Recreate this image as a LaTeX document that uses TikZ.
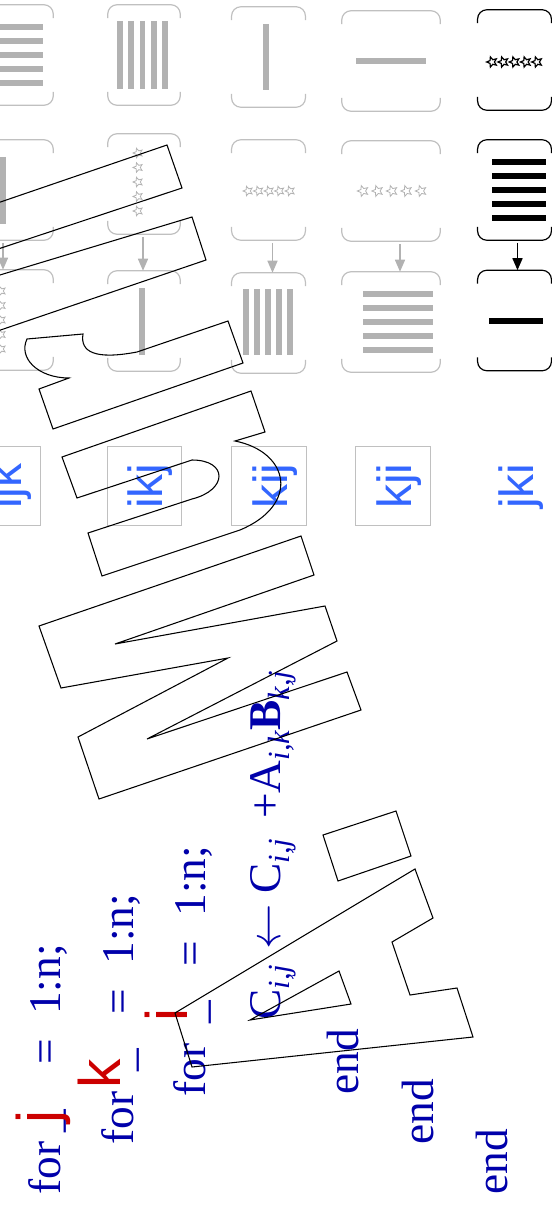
\RequirePackage{fix-cm}
\documentclass[tikz,border=0pt]{standalone}
\usepackage{fontspec}
\setmainfont{Liberation Serif}
\newfontfamily\sansfam{Liberation Sans}
\usetikzlibrary{arrows.meta,shapes.geometric}
\definecolor{codeblue}{RGB}{0,0,170}
\definecolor{loopred}{RGB}{204,0,0}
\definecolor{orderblue}{RGB}{51,102,255}
\definecolor{bargray}{RGB}{178,178,178}
\definecolor{framegray}{RGB}{192,192,192}

% subscript of the update line
\newcommand{\idx}[1]{\raisebox{-0.2em}{\fontsize{23}{23}\selectfont\itshape #1}}
% only the rounded top and bottom of a card are drawn
\newcommand{\cardframe}[2][framegray]{%
  \draw[#1,line width=0.9pt,rounded corners=7pt] ([yshift=-10pt]#2.north west) |- (#2.north) -| ([yshift=-10pt]#2.north east);
  \draw[#1,line width=0.9pt,rounded corners=7pt] ([yshift=10pt]#2.south west) |- (#2.south) -| ([yshift=10pt]#2.south east);}

\begin{document}
\begin{tikzpicture}[x=0.75pt,y=-0.75pt,
  card/.style={inner sep=0pt,minimum height=75pt},
  code/.style={rotate=90,anchor=base west,inner sep=0pt,text=codeblue,font=\fontsize{34}{40}\selectfont},
  loopvar/.style={rotate=90,anchor=base,inner sep=0pt,text=loopred,font=\sansfam\fontsize{44}{50}\selectfont},
  order/.style={rotate=90,inner sep=0pt,minimum width=59pt,minimum height=56pt,text height=34.5pt,text depth=7.5pt,text=orderblue,line width=0.8pt,font=\sansfam\fontsize{36}{40}\selectfont},
  hbar/.style={bargray,line width=4pt},
  starmark/.style={star,star points=5,star point ratio=2.2,minimum size=7.5pt,inner sep=0pt,draw=bargray,line width=0.6pt,rotate=90},
  flow/.style={-{Triangle[length=9pt,width=7.5pt]},line width=1.1pt,bargray,shorten <=2pt}]
  \useasboundingbox (0,0) rectangle (552,1209);
  \clip (0,0) rectangle (552,1209);

  % cards: column / x / width / rows
  \foreach \c/\x/\w/\ya/\yb/\yc in {1/3/75/55/190/320, 2/144/54/55/184/321, 3/268.5/55/57/190/323, 4/391/73.5/61/191/322, 5/514.5/55/60/190/320.5}{
    \node[card,minimum width=\w pt] (top\c) at (\x,\ya) {};
    \node[card,minimum width=\w pt] (mid\c) at (\x,\yb) {};
    \node[card,minimum width=\w pt] (bot\c) at (\x,\yc) {};
  }
  \foreach \c in {1,2,3,4}{\foreach \r in {top,mid,bot}{\cardframe{\r\c}}}
  \foreach \r in {top,mid,bot}{\cardframe[black]{\r5}}

  % column 1
  \foreach \y in {27,41,55,69,83} \draw[hbar] (-27,\y) -- (43,\y);
  \draw[hbar] (3,157) -- (3,224);
  \foreach \y [count=\n] in {291,305.5,320,334.5,349} \node[starmark] (s1-\n) at (1,\y) {};
  % column 2
  \foreach \x in {120,131,142.5,154,165} \draw[hbar] (\x,21) -- (\x,89);
  \foreach \y [count=\n] in {153,167.5,182,196.5,211} \node[starmark] (s2-\n) at (138,\y) {};
  \draw[hbar] (142,288) -- (142,355);
  % column 3
  \draw[hbar] (266,24) -- (266,90);
  \foreach \x [count=\n] in {248,258.5,269,279.5,290} \node[starmark] (s3-\n) at (\x,191) {};
  \foreach \x in {246,257,268,279,290} \draw[hbar] (\x,289) -- (\x,355);
  % column 4
  \draw[hbar] (356,61) -- (426,61);
  \foreach \x [count=\n] in {363,377.5,392,406.5,421} \node[starmark,minimum size=8.5pt] (s4-\n) at (\x,191) {};
  \foreach \y in {294,308,322,336,350} \draw[hbar] (363,\y) -- (433,\y);
  % column 5
  \foreach \x [count=\n] in {492,503.25,514.5,525.75,537} \node[starmark,draw=black,line width=0.9pt,minimum size=8pt] (s5-\n) at (\x,62) {};
  \foreach \y in {162,176,190,204,218} \draw[hbar,black] (492,\y) -- (546,\y);
  \draw[hbar,black] (489,321) -- (543,321);

  \draw[flow] (mid1.south) -- (bot1.north);
  \draw[flow] ([xshift=-0.75pt]mid2.south) -- ([xshift=-0.75pt]bot2.north);
  \draw[flow] ([xshift=3pt]mid3.south) -- ([xshift=3pt]bot3.north);
  \draw[flow] ([xshift=6.75pt]mid4.south) -- ([xshift=6.75pt]bot4.north);
  \draw[flow,black] ([xshift=2.25pt]mid5.south) -- ([xshift=2.25pt]bot5.north);

  % loop orders
  \node[order,draw=framegray] (ijk) at (3.5,486) {ijk};
  \node[order,draw=framegray] (ikj) at (144.5,486) {ikj};
  \node[order,draw=framegray] (kij) at (269,486) {kij};
  \node[order,draw=framegray] (kji) at (393,486) {kji};
  \node[order] (jki) at (515.5,486) {jki};

  % the loop nest
  \node[code] (forj) at (60,1195) {for\hspace{0.2em}\_\hspace{1.0em}=\hspace{0.54em}1:n;};
  \node[code] (fork) at (133,1145) {for\hspace{0.45em}\_\hspace{0.76em}=\hspace{0.54em}1:n;};
  \node[code] (fori) at (205,1097) {for\hspace{0.45em}\_\hspace{0.76em}=\hspace{0.54em}1:n;};
  \node[code] (update) at (280,1020) {C\idx{i,j}\hspace{0.33em}$\leftarrow$\hspace{0.24em}C\idx{i,j}\hspace{0.44em}+A\idx{i,k}\textbf{B}\idx{k,j}};
  \node[code] (endi) at (358,1095) {end};
  \node[code] (endk) at (433,1145) {end};
  \node[code] (endj) at (507,1195) {end};
  \node[loopvar] (varj) at (58,1117) {j};
  \node[loopvar] (vark) at (120,1074) {k};
  \node[loopvar] (vari) at (187,1015) {i};

  % big outlined lettering across the slide
  \begin{scope}[line width=0.8pt]
    \draw (-20,209) -- (167,145) -- (182,188) -- (-20,255);
    \draw (-20,281) -- (192,217) -- (206,260) -- (-20,337);
    \draw (228,321) -- (243,363) -- (53,429) -- (39,389) -- (69,378) .. controls (38,378) and (18,358) .. (27,339) -- (83,334) .. controls (80,352) and (95,360) .. (137,352) -- cycle;
    \draw (62,457) -- (251,391) -- (265,432) -- (235,441) .. controls (290,452) and (300,505) .. (240,530) -- (102,576) -- (88,533) -- (192,499) .. controls (228,490) and (228,460) .. (192,460) -- (77,498) -- cycle;
    \draw (39,626) -- (301,536) -- (314,575) -- (115,644) -- (325,606) -- (337,641) -- (147,739) -- (347,672) -- (361,710) -- (99,799) -- (78,737) -- (228,658) -- (61,688) -- cycle;
    \draw (175,1013) -- (415,869) -- (433,918) -- (392,942) -- (410,995) -- (457,988) -- (473,1037) -- (192,1067) -- cycle (250,1020) -- (339,971) -- (351,1004) -- cycle;
    \draw (323,835) -- (396,811) -- (411,856) -- (338,881) -- cycle;
  \end{scope}
\end{tikzpicture}
\end{document}
